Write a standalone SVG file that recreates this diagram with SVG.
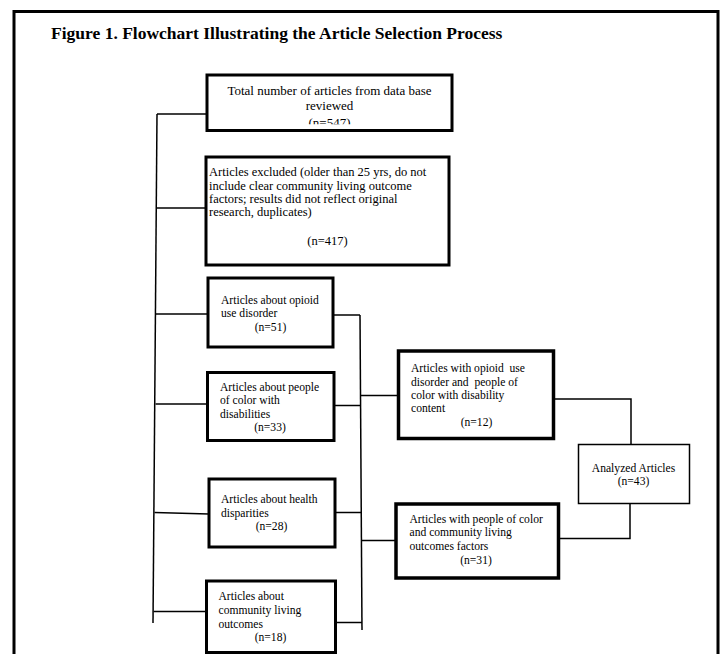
<svg xmlns="http://www.w3.org/2000/svg" width="722" height="654" viewBox="0 0 722 654">
<style>
text{font-family:"Liberation Serif","Times New Roman",serif;fill:#000;white-space:pre}
.t{font-size:11.6px}
.m{text-anchor:middle}
.box{fill:#fff;stroke:#000;stroke-width:3}
.thin{fill:#fff;stroke:#000;stroke-width:1.5}
.c{stroke:#000;stroke-width:1.5;fill:none}
</style>
<defs>
<clipPath id="clip1"><rect x="207" y="75" width="245" height="49.3"/></clipPath>
</defs>
<rect width="722" height="654" fill="#fff"/>
<path d="M14,660 V11.5 H718 V660" fill="none" stroke="#000" stroke-width="3"/>
<text x="51" y="39" style="font-size:17.5px;font-weight:bold">Figure 1. Flowchart Illustrating the Article Selection Process</text>

<g id="connectors">
<path class="c" d="M157,114 L153,623"/>
<path class="c" d="M157,114 H207"/>
<path class="c" d="M156,208 H206"/>
<path class="c" d="M156,314 H208"/>
<path class="c" d="M155.5,404 H207"/>
<path class="c" d="M154.5,512.5 L209,514"/>
<path class="c" d="M153.5,611.5 H206"/>
<path class="c" d="M360,315 L362,630"/>
<path class="c" d="M333,315 H360"/>
<path class="c" d="M334,405.5 H361"/>
<path class="c" d="M335,512.5 H361"/>
<path class="c" d="M336,622.5 H362"/>
<path class="c" d="M361,395.5 H398"/>
<path class="c" d="M361.5,540.5 H396"/>
<path class="c" d="M553,399 H631 V444"/>
<path class="c" d="M558,538.5 H630 V503"/>
</g>

<g id="n1">
<rect class="box" x="207" y="75" width="245" height="55.5"/>
<text class="m" x="329.5" y="95" style="font-size:13px">Total number of articles from data base</text>
<text class="m" x="329.5" y="109.5" style="font-size:13px">reviewed</text>
<text class="m" x="329.5" y="127" style="font-size:13px" clip-path="url(#clip1)">(n=547)</text>
</g>

<g id="n2">
<rect class="box" x="206" y="157" width="243" height="108"/>
<text x="209" y="176" style="font-size:12.5px">Articles excluded (older than 25 yrs, do not</text>
<text x="209" y="189.5" style="font-size:12.5px">include clear community living outcome</text>
<text x="209" y="202.5" style="font-size:12.5px">factors; results did not reflect original</text>
<text x="209" y="215.5" style="font-size:12.5px">research, duplicates)</text>
<text class="m" x="327.5" y="245" style="font-size:12.5px">(n=417)</text>
</g>

<g id="n3">
<rect class="box" x="208" y="278" width="125" height="69"/>
<text class="t" x="221" y="303.5">Articles about opioid</text>
<text class="t" x="221" y="317">use disorder</text>
<text class="t m" x="270.5" y="330.5">(n=51)</text>
</g>

<g id="n4">
<rect class="box" x="207.5" y="372.5" width="126.5" height="68"/>
<text class="t" x="220" y="391">Articles about people</text>
<text class="t" x="220" y="404">of color with</text>
<text class="t" x="220" y="417.5">disabilities</text>
<text class="t m" x="270" y="431">(n=33)</text>
</g>

<g id="n5">
<rect class="box" x="209" y="479" width="126" height="68"/>
<text class="t" x="221" y="503">Articles about health</text>
<text class="t" x="221" y="516.5">disparities</text>
<text class="t m" x="271.5" y="530">(n=28)</text>
</g>

<g id="n6">
<rect class="box" x="206.5" y="581" width="129" height="71.5"/>
<text class="t" x="218.5" y="600">Articles about</text>
<text class="t" x="218.5" y="613.5">community living</text>
<text class="t" x="218.5" y="627.5">outcomes</text>
<text class="t m" x="270.5" y="641">(n=18)</text>
</g>

<g id="n7">
<rect class="box" x="398.5" y="351" width="155" height="87.5" style="stroke-width:3.5"/>
<text class="t" x="411" y="372">Articles with opioid  use</text>
<text class="t" x="411" y="385.5">disorder and  people of</text>
<text class="t" x="411" y="399">color with disability</text>
<text class="t" x="411" y="412">content</text>
<text class="t m" x="476.5" y="426">(n=12)</text>
</g>

<g id="n8">
<rect class="box" x="396" y="504" width="162.5" height="74" style="stroke-width:3.5"/>
<text class="t" x="409.5" y="522.5">Articles with people of color</text>
<text class="t" x="409.5" y="536">and community living</text>
<text class="t" x="409.5" y="550">outcomes factors</text>
<text class="t m" x="476" y="564">(n=31)</text>
</g>

<g id="n9">
<rect class="thin" x="578.5" y="444.5" width="111" height="59"/>
<text class="t m" x="633.5" y="472">Analyzed Articles</text>
<text class="t m" x="633.5" y="484.5">(n=43)</text>
</g>
</svg>
